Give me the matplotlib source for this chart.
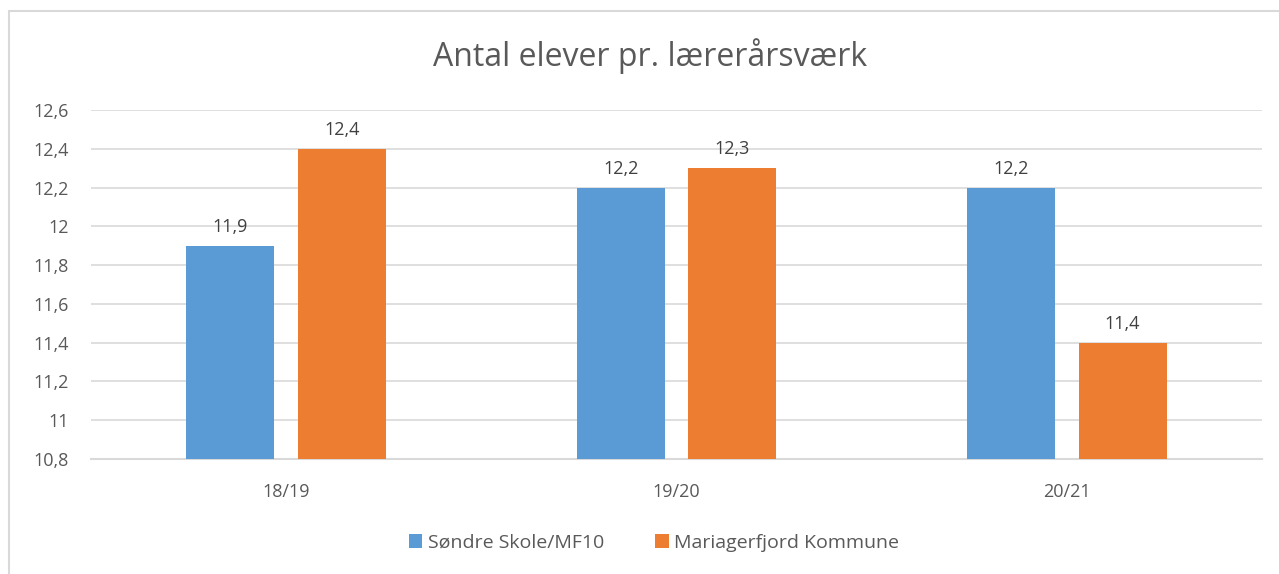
import numpy as np
import matplotlib.pyplot as plt
from matplotlib.patches import Rectangle

years = ["18/19", "19/20", "20/21"]
skole = [11.9, 12.2, 12.2]
kommune = [12.4, 12.3, 11.4]
yticks = [10.8, 11.0, 11.2, 11.4, 11.6, 11.8, 12.0, 12.2, 12.4, 12.6]
ytick_labels = ["10,8", "11", "11,2", "11,4", "11,6", "11,8", "12", "12,2", "12,4", "12,6"]

plt.rcParams['font.family'] = ['Open Sans', 'DejaVu Sans']
grey = "#595959"

W, H = 1279, 574
fig = plt.figure(figsize=(W / 100, H / 100), dpi=100)
# light grey chart border (cut off at right and bottom like the screenshot)
fig.patches.append(Rectangle((9 / W, -0.1), 1.2, (H - 11) / H + 0.1, transform=fig.transFigure,
                             fill=False, edgecolor="#d9d9d9", linewidth=1.5))

ax = fig.add_axes([91 / W, 1 - 459 / H, (1262 - 91) / W, (459 - 110) / H])

x = np.arange(len(years))
w = 0.225
off = 0.143
b1 = ax.bar(x - off, skole, w, color="#5b9bd5", label="Søndre Skole/MF10", zorder=3)
b2 = ax.bar(x + off, kommune, w, color="#ed7d31", label="Mariagerfjord Kommune", zorder=3)

for bars, vals in [(b1, skole), (b2, kommune)]:
    for rect, v in zip(bars, vals):
        ax.annotate(str(v).replace(".", ","), (rect.get_x() + rect.get_width() / 2, v),
                    xytext=(0, 7), textcoords="offset points", ha="center", va="bottom",
                    fontsize=13, color="#404040")

ax.set_xlim(-0.5, 2.5)
ax.set_ylim(10.8, 12.6)
ax.set_yticks(yticks)
ax.set_yticklabels(ytick_labels)
ax.set_xticks(x)
ax.set_xticklabels(years)
ax.tick_params(length=0, labelsize=13, labelcolor=grey)
ax.tick_params(axis="y", pad=16)
ax.tick_params(axis="x", pad=17)
ax.grid(axis="y", color="#d9d9d9", linewidth=1.2, zorder=0)
for s in ["top", "right", "left"]:
    ax.spines[s].set_visible(False)
ax.spines["bottom"].set_color("#d9d9d9")
ax.spines["bottom"].set_linewidth(1.5)

fig.text(650 / W, 1 - 56 / H, "Antal elever pr. lærerårsværk", ha="center", va="center",
         fontsize=23, color=grey)

fig.legend(loc="center", bbox_to_anchor=(654 / W, 1 - 543 / H), ncol=2, frameon=False,
           fontsize=14, labelcolor=grey, handlelength=0.7, handleheight=0.7,
           handletextpad=0.3, columnspacing=2.6)

fig.savefig("out.png", dpi=100)
